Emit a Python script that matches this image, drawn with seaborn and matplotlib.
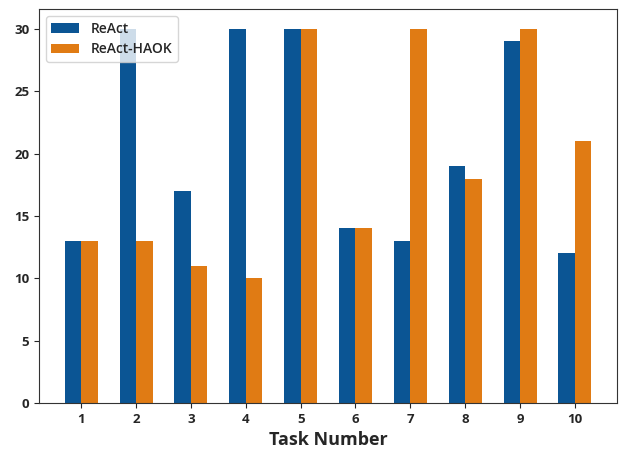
import pandas as pd
import matplotlib
matplotlib.use("Agg")
import matplotlib.pyplot as plt
import seaborn as sns

# values
tasks = ["1", "2", "3", "4", "5", "6", "7", "8", "9", "10"]
react = [13, 30, 17, 30, 30, 14, 13, 19, 29, 12]
react_haok = [13, 13, 11, 10, 30, 14, 30, 18, 30, 21]
series_names = ["ReAct", "ReAct-HAOK"]
colors = ["#0b5594", "#e07b14"]

df = pd.DataFrame({
    "task": tasks * 2,
    "steps": react + react_haok,
    "method": [series_names[0]] * len(tasks) + [series_names[1]] * len(tasks),
})

sns.set_style("ticks")
plt.rcParams["font.family"] = ["Open Sans", "DejaVu Sans"]

fig = plt.figure(figsize=(6.19, 4.49), dpi=100)
ax = fig.add_axes([0.063, 0.1024, 0.934, 0.8775])

sns.barplot(data=df, x="task", y="steps", hue="method", order=tasks,
            hue_order=series_names, palette=colors, width=0.6,
            saturation=1, errorbar=None, linewidth=0, ax=ax, legend=True)

ax.set_xlim(-0.77, 9.77)
ax.set_ylim(0, 31.6)
ax.set_yticks([0, 5, 10, 15, 20, 25, 30])
ax.set_xlabel("Task Number", fontsize=13, fontweight="bold")
ax.set_ylabel("")
for lbl in ax.get_xticklabels() + ax.get_yticklabels():
    lbl.set_fontsize(9.5)
    lbl.set_fontweight("bold")
for s in ax.spines.values():
    s.set_visible(True)
    s.set_color("#333333")

leg = ax.legend(loc="upper left", fontsize=10, frameon=True, fancybox=True,
                handlelength=2, borderpad=0.4)
for t in leg.get_texts():
    t.set_fontweight("semibold")

fig.savefig("out.png", dpi=100)
